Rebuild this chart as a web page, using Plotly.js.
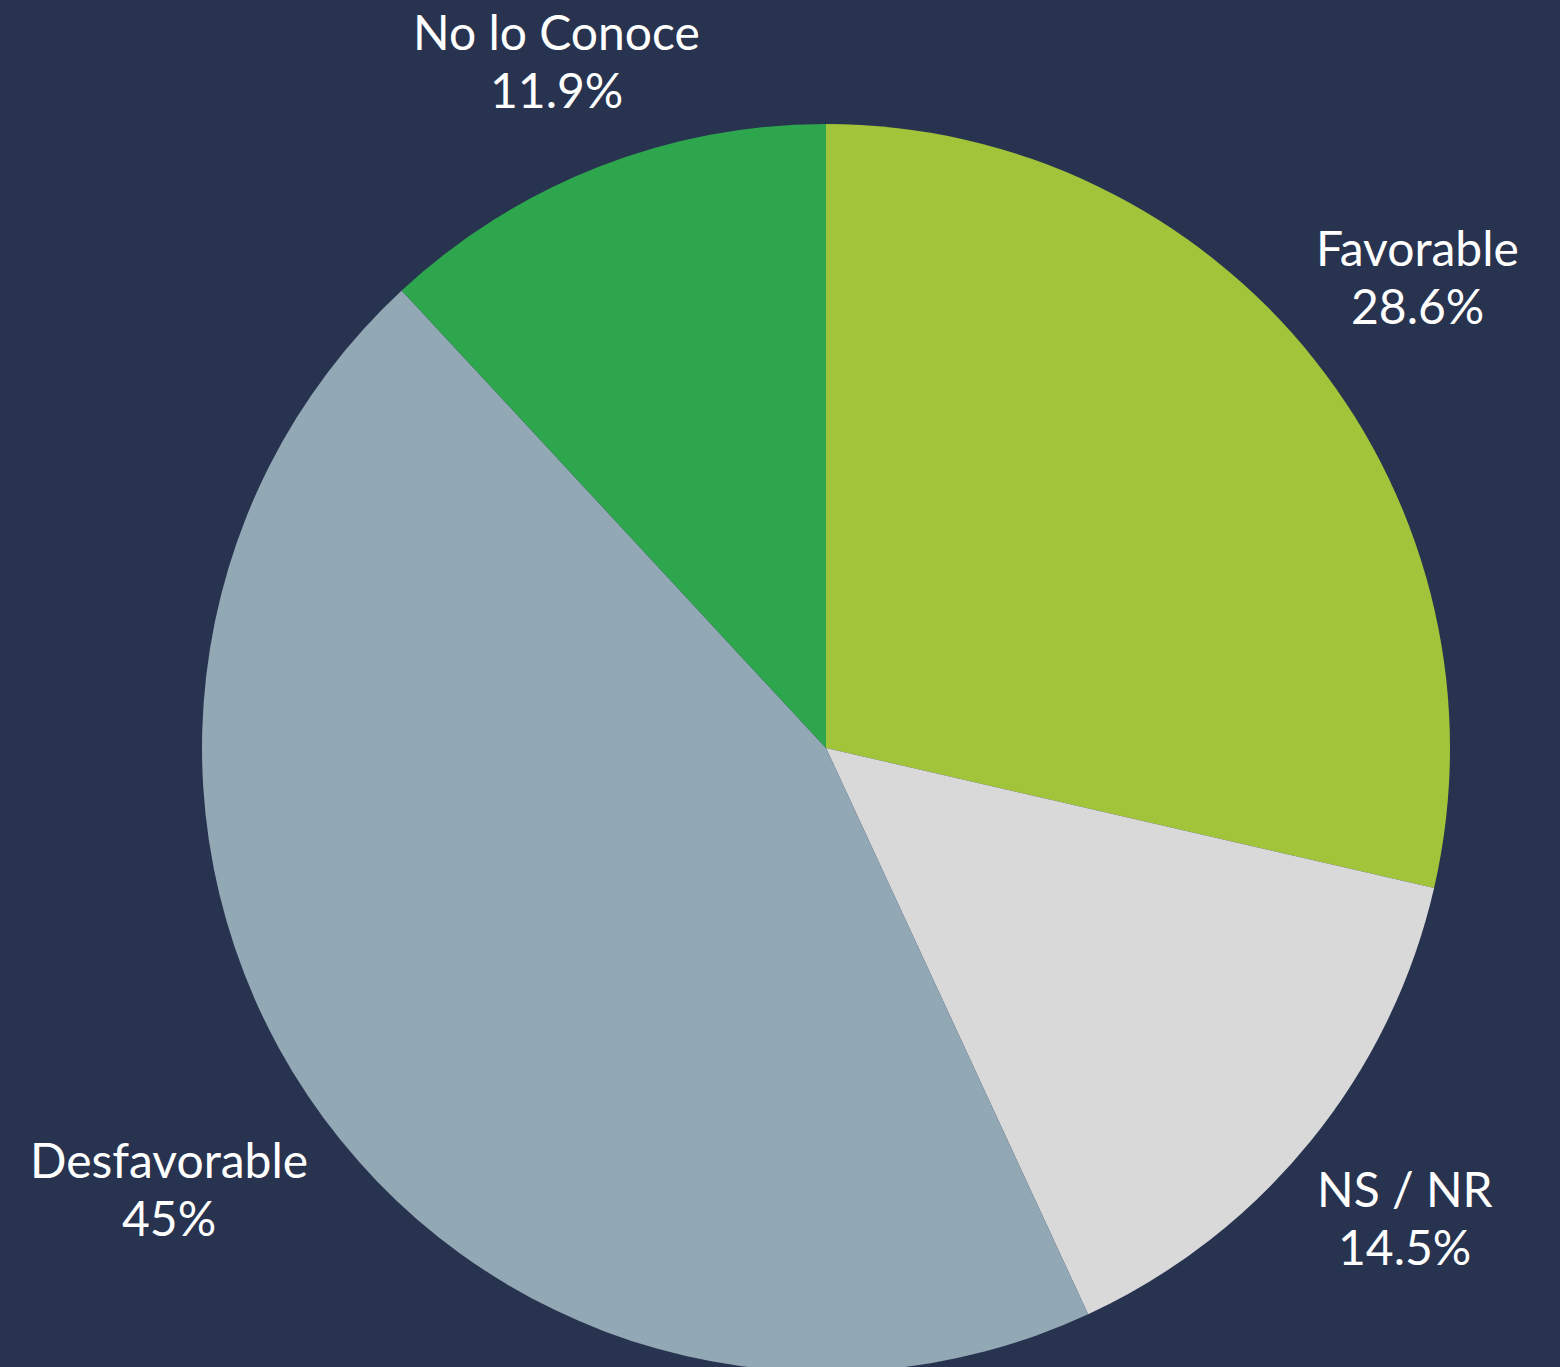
<!DOCTYPE html>
<html>
<head>
<meta charset="utf-8">
<script src="https://cdn.plot.ly/plotly-3.0.1.min.js"></script>
<style>
html,body{margin:0;padding:0;overflow:hidden;background:#283350;}
#chart{width:1560px;height:1380px;}
</style>
</head>
<body>
<div id="chart"></div>
<script>
var categories = ["Favorable", "NS / NR", "Desfavorable", "No lo Conoce"];
var values = [28.6, 14.5, 45, 11.9];
var colors = ["#a2c43a", "#d9d9d9", "#92a8b4", "#2ea64e"];

var W = 1560, H = 1380;
var cx = 826, cy = 748, r = 624;
var FONT_SIZE = 48, LINE_GAP = 58, GAP = 36, BLOCK_H = 55;

function pctText(v, total) {
  return parseFloat((v / total * 100).toPrecision(3)).toString() + "%";
}

var canvas = document.createElement("canvas");
var ctx = canvas.getContext("2d");
ctx.font = FONT_SIZE + "px Lato";
function textW(t) { return ctx.measureText(t).width; }

var total = values.reduce(function (a, b) { return a + b; }, 0);
var annotations = [];
var cum = 0;
values.forEach(function (v, i) {
  var mid = (cum + v / 2) / total * 2 * Math.PI;
  cum += v;
  var s = Math.sin(mid), c = Math.cos(mid);
  var p = pctText(v, total);
  var w = Math.max(textW(categories[i]), textW(p));
  var dist = r + GAP + Math.abs(s) * w / 2 + Math.abs(c) * BLOCK_H / 2;
  var px = cx + dist * s, py = cy - dist * c;
  var base = {
    xref: "paper", yref: "paper", showarrow: false,
    xanchor: "center", yanchor: "middle",
    font: {family: "Lato, sans-serif", size: FONT_SIZE, color: "#ffffff"}
  };
  annotations.push(Object.assign({}, base, {text: categories[i], x: px / W, y: 1 - (py - LINE_GAP / 2) / H}));
  annotations.push(Object.assign({}, base, {text: p, x: px / W, y: 1 - (py + LINE_GAP / 2) / H}));
});

var data = [{
  type: "pie",
  labels: categories,
  values: values,
  sort: false,
  direction: "clockwise",
  rotation: 0,
  marker: {colors: colors, line: {width: 0}},
  textinfo: "none",
  hoverinfo: "label+percent",
  showlegend: false,
  domain: {
    x: [(cx - r) / W, (cx + r) / W],
    y: [(H - cy - r) / H, (H - cy + r) / H]
  }
}];

var layout = {
  width: W,
  height: H,
  margin: {l: 0, r: 0, t: 0, b: 0},
  paper_bgcolor: "#283350",
  plot_bgcolor: "#283350",
  font: {family: "Lato, sans-serif", color: "#ffffff"},
  showlegend: false,
  annotations: annotations
};

Plotly.newPlot("chart", data, layout, {displayModeBar: false, staticPlot: true});
</script>
</body>
</html>
